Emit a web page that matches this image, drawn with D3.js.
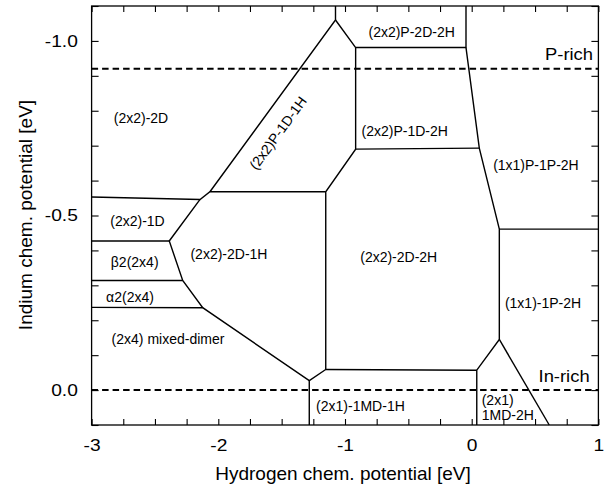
<!DOCTYPE html>
<html>
<head>
<meta charset="utf-8">
<script src="https://cdn.jsdelivr.net/npm/d3@7"></script>
<style>
  body { margin: 0; background: #fff; }
  svg { display: block; font-family: "Liberation Sans", Arial, Helvetica, sans-serif; }
</style>
</head>
<body>
<svg id="chart" width="609" height="489"></svg>
<script>
// phase boundaries as polylines, points are [hydrogen mu, indium mu] in eV
var boundaries = [
  [[-3, -0.553], [-2.144, -0.546], [-2.066, -0.568], [-1.152, -0.568]],
  [[-2.066, -0.568], [-1.075, -1.060], [-1.075, -1.1]],
  [[-1.075, -1.060], [-0.916, -0.981], [-0.045, -0.981], [-0.045, -1.1]],
  [[-0.916, -0.981], [-0.916, -0.690], [-1.152, -0.568], [-1.152, -0.059], [-1.282, -0.027], [-1.282, 0.1]],
  [[-0.916, -0.690], [0.060, -0.693]],
  [[-0.045, -0.981], [0.060, -0.693], [0.218, -0.461], [0.218, -0.145], [0.040, -0.057], [0.040, 0.1]],
  [[0.218, -0.461], [1, -0.461]],
  [[0.218, -0.145], [0.612, 0.1]],
  [[0.040, -0.057], [-1.152, -0.059]],
  [[-1.282, -0.027], [-2.123, -0.236], [-2.281, -0.314], [-2.387, -0.427], [-2.144, -0.546]],
  [[-2.123, -0.236], [-3, -0.237]],
  [[-2.281, -0.314], [-3, -0.314]],
  [[-2.387, -0.427], [-3, -0.427]]
];

// phase names and where they sit in the diagram
var phaseNames = [
  '(2x2)-2D', '(2x2)P-1D-1H', '(2x2)P-2D-2H', '(2x2)P-1D-2H', '(1x1)P-1P-2H',
  '(2x2)-1D', '(2x2)-2D-1H', '\u03b22(2x4)', '\u03b12(2x4)', '(2x4) mixed-dimer',
  '(2x2)-2D-2H', '(1x1)-1P-2H', '(2x1)-1MD-1H', '(2x1)\n1MD-2H'
];
var phaseX = [-2.61, -1.529, -0.474, -0.529, 0.507, -2.638, -1.916, -2.66, -2.697, -2.397, -0.576, 0.563, -0.878, 0.079];
var phaseY = [-0.779, -0.736, -1.026, -0.742, -0.645, -0.484, -0.390, -0.367, -0.266, -0.146, -0.382, -0.249, 0.046, 0.050];

// chemical potential limits
var limitNames = ['P-rich', 'In-rich'];
var limitY = [-0.92, 0.0];
var limitLabelX = [0.768, 0.729];

var xTicks = [-3, -2, -1, 0, 1];
var yTicks = [-1.0, -0.5, 0.0];

var svg = d3.select('#chart');

var x = d3.scaleLinear().domain([-3, 1]).range([91.6, 598.4]);
var y = d3.scaleLinear().domain([-1.1, 0.1]).range([6, 425]);

var x0 = x.range()[0], x1 = x.range()[1];
var y0 = y.range()[0], y1 = y.range()[1];

/**
 * minor ticks, all pointing inward on the four sides
 */
var xMinor = d3.range(-12, 5).map(function (i) { return i / 4; });
var yMinor = d3.range(-11, 2).map(function (i) { return i / 10; });

svg.append('g').attr('transform', 'translate(0,' + y1 + ')')
  .call(d3.axisBottom(x).tickValues(xMinor).tickSize(-6).tickFormat(''));
svg.append('g').attr('transform', 'translate(0,' + y0 + ')')
  .call(d3.axisTop(x).tickValues(xMinor).tickSize(-6).tickFormat(''));
svg.append('g').attr('transform', 'translate(' + x0 + ',0)')
  .call(d3.axisLeft(y).tickValues(yMinor).tickSize(-7).tickFormat(''));
svg.append('g').attr('transform', 'translate(' + x1 + ',0)')
  .call(d3.axisRight(y).tickValues(yMinor).tickSize(-7).tickFormat(''));

// labelled axes, only text
var xAxis = svg.append('g').attr('transform', 'translate(0,' + y1 + ')')
  .call(d3.axisBottom(x).tickValues(xTicks).tickSize(0).tickPadding(15)
    .tickFormat(function (d) { return String(d); }));
var yAxis = svg.append('g').attr('transform', 'translate(' + x0 + ',0)')
  .call(d3.axisLeft(y).tickValues(yTicks).tickSize(0).tickPadding(11.5)
    .tickFormat(function (d) { return d.toFixed(1); }));

svg.selectAll('.domain').remove();
svg.selectAll('.tick line').attr('stroke', '#000').attr('stroke-width', 1.1);
[xAxis, yAxis].forEach(function (ax) {
  ax.selectAll('text')
    .attr('fill', '#000')
    .style('font-size', '16px')
    .style('font-family', '"Liberation Sans", Arial, sans-serif')
    .attr('transform', 'scale(1.2,1)');
});

// frame
svg.append('rect')
  .attr('x', x0).attr('y', y0)
  .attr('width', x1 - x0).attr('height', y1 - y0)
  .attr('fill', 'none')
  .attr('stroke', '#000')
  .attr('stroke-width', 1.3);

// P-rich / In-rich dashed lines
svg.selectAll('line.limit')
  .data(limitY)
  .enter()
  .append('line')
  .attr('class', 'limit')
  .attr('x1', x0).attr('x2', x1)
  .attr('y1', function (d) { return y(d); })
  .attr('y2', function (d) { return y(d); })
  .attr('stroke', '#000')
  .attr('stroke-width', 2)
  .attr('stroke-dasharray', '6.5,4');

svg.selectAll('text.limit')
  .data(limitNames)
  .enter()
  .append('text')
  .attr('class', 'limit')
  .attr('transform', function (d, i) {
    return 'translate(' + x(limitLabelX[i]) + ',' + y(limitY[i]) + ')';
  })
  .append('tspan')
  .attr('text-anchor', 'middle')
  .attr('y', function (d, i) { return i === 0 ? -8.5 : -8; })
  .attr('transform', 'scale(1.15,1)')
  .style('font-size', '16px')
  .text(function (d) { return d; });

// re-apply the stretch on the text element (tspan transforms are ignored)
svg.selectAll('text.limit').attr('transform', function (d, i) {
  return 'translate(' + x(limitLabelX[i]) + ',' + y(limitY[i]) + ') scale(1.15,1)';
});

// phase boundaries
var line = d3.line()
  .x(function (d) { return x(d[0]); })
  .y(function (d) { return y(d[1]); });

svg.append('g')
  .selectAll('path')
  .data(boundaries)
  .enter()
  .append('path')
  .attr('d', line)
  .attr('fill', 'none')
  .attr('stroke', '#000')
  .attr('stroke-width', 1.4)
  .attr('stroke-linejoin', 'miter');

// rotation of the label that runs along the (2x2)P-1D-1H edge
var edge = boundaries[1];
var edgeAngle = Math.atan2(y(edge[1][1]) - y(edge[0][1]), x(edge[1][0]) - x(edge[0][0])) * 180 / Math.PI;

var labels = svg.append('g')
  .selectAll('text')
  .data(phaseNames)
  .enter()
  .append('text')
  .style('font-size', '14px')
  .attr('fill', '#000')
  .attr('transform', function (d, i) {
    var t = 'translate(' + x(phaseX[i]) + ',' + y(phaseY[i]) + ')';
    if (d === '(2x2)P-1D-1H') t += ' rotate(' + edgeAngle + ')';
    return t;
  })
  .attr('text-anchor', function (d) { return d.indexOf('\n') >= 0 ? 'start' : 'middle'; });

labels.each(function (d) {
  var parts = d.split('\n');
  var el = d3.select(this);
  parts.forEach(function (p, k) {
    el.append('tspan')
      .attr('x', 0)
      .attr('y', (k - (parts.length - 1) / 2) * 15.5)
      .attr('dy', '0.35em')
      .text(p);
  });
});

// axis titles
svg.append('text')
  .attr('x', 343)
  .attr('y', 480)
  .attr('text-anchor', 'middle')
  .style('font-size', '19px')
  .text('Hydrogen chem. potential [eV]');

svg.append('text')
  .attr('transform', 'translate(32,215) rotate(-90)')
  .attr('text-anchor', 'middle')
  .style('font-size', '19px')
  .text('Indium chem. potential [eV]');
</script>
</body>
</html>
